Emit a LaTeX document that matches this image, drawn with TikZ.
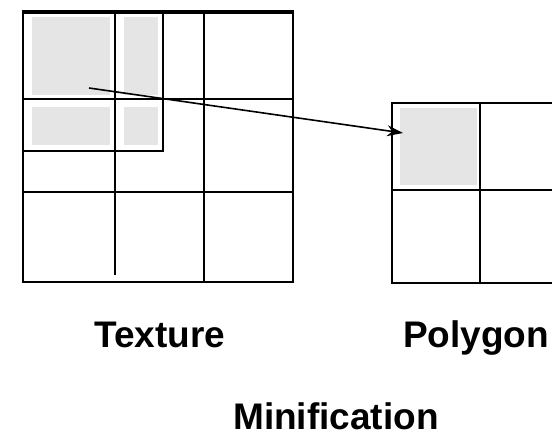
\documentclass[tikz,border=0pt]{standalone}
\usepackage{fontspec}
\setmainfont{Liberation Sans}
\usetikzlibrary{arrows.meta}
\begin{document}
\begin{tikzpicture}[x=1pt,y=-1pt,
  outer/.style={line width=2.6pt},
  inner/.style={line width=2pt},
  shade/.style={fill=black!10,draw=none},
  lbl/.style={font=\fontsize{37}{40}\selectfont\bfseries,inner sep=0pt,anchor=base}]
\useasboundingbox (0,0) rectangle (552,437);
\fill[white] (0,0) rectangle (552,437);
% shaded cells (texture)
\fill[shade] (32,17) rectangle (110,95);
\fill[shade] (124,17) rectangle (158,95);
\fill[shade] (32,107) rectangle (110,145);
\fill[shade] (124,107) rectangle (158,145);
% shaded cell (polygon)
\fill[shade] (400,108) rectangle (477,185);
% texture grid
\draw[inner] (115,12) -- (115,275);
\draw[inner] (204,12) -- (204,282);
\draw[inner] (23,99) -- (293,99);
\draw[inner] (23,192) -- (293,192);
\draw[inner] (23,151) -- (163,151) -- (163,12);
\draw[outer] (23,12) rectangle (293,282);
\draw[line width=4.5pt] (21.7,12) -- (294.3,12);
% polygon grid
\draw[inner] (480,103) -- (480,283);
\draw[inner] (392,190) -- (570,190);
\draw[outer] (392,103) rectangle (570,283);
% arrow
\coordinate (src) at (89,88);
\coordinate (dst) at (403,133);
\draw[line width=1.6pt,-{Stealth[length=16pt,width=11pt]}] (src) -- (dst);
% labels
\node[lbl] (tex) at (160,347) {Texture};
\node[lbl,anchor=base west] (poly) at (403,347) {Polygon};
\node[lbl] (mini) at (336,429) {Minification};
\end{tikzpicture}
\end{document}
